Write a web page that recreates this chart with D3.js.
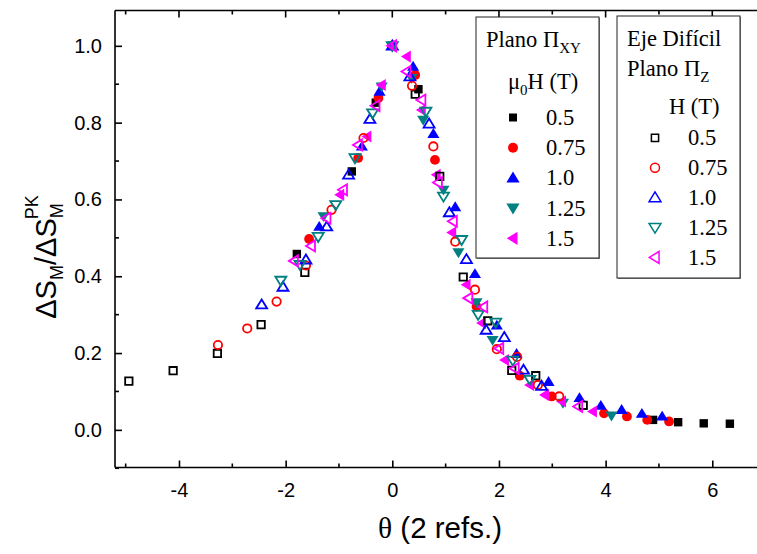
<!DOCTYPE html>
<html>
<head>
<meta charset="utf-8">
<script src="https://cdn.jsdelivr.net/npm/d3@7"></script>
<style>
  html, body { margin: 0; padding: 0; background: #fff; }
  svg { display: block; }
</style>
</head>
<body>
<svg id="chart" width="757" height="554"></svg>
<script>
// Normalised magnetic entropy change vs reduced temperature θ (2 refs.)
// Plano Π_XY (filled symbols), field μ0H in T
const xyField05  = [[-1.79,0.458],[-0.76,0.673],[-0.31,0.852],[0,1],[0.49,0.887],[4.89,0.026],[5.36,0.020],[5.84,0.017],[6.33,0.016]];
const xyField075 = [[-1.56,0.497],[-0.64,0.708],[-0.26,0.864],[0,1],[0.43,0.924],[0.80,0.703],[1.58,0.321],[2.39,0.141],[2.99,0.087],[3.97,0.043],[4.40,0.035],[4.78,0.026],[5.19,0.022]];
const xyField10  = [[-1.37,0.529],[-0.57,0.738],[-0.24,0.881],[0,1],[0.39,0.946],[0.77,0.771],[1.18,0.580],[1.55,0.406],[1.96,0.272],[2.33,0.198],[2.93,0.125],[3.51,0.083],[3.91,0.063],[4.30,0.052],[4.68,0.042],[5.06,0.035]];
const xyField125 = [[-1.29,0.556],[-0.20,0.894],[0,1],[0.36,0.916],[0.58,0.807],[0.96,0.625],[1.24,0.462],[1.58,0.332],[1.88,0.234],[3.20,0.070],[4.11,0.037]];
const xyField15  = [[-0.98,0.612],[-0.47,0.764],[-0.20,0.898],[0,1],[0.27,0.972],[0.55,0.833],[0.83,0.664],[1.12,0.514],[1.39,0.378],[1.68,0.278],[2.11,0.182],[2.58,0.117],[2.86,0.091],[3.18,0.074],[3.76,0.048]];

// Eje Difícil, Plano Π_Z (open symbols), field H in T
const zField05  = [[-4.94,0.127],[-4.11,0.154],[-3.28,0.199],[-2.46,0.274],[-1.64,0.410],[0.43,0.874],[0.89,0.660],[1.33,0.398],[1.79,0.284],[2.24,0.155],[2.69,0.141],[3.58,0.064]];
const zField075 = [[-3.27,0.221],[-2.72,0.264],[-2.17,0.334],[-1.62,0.428],[-1.14,0.573],[-0.54,0.760],[0.37,0.896],[0.77,0.738],[1.18,0.490],[1.55,0.365],[1.96,0.210],[2.34,0.190],[2.73,0.117],[3.13,0.087]];
const zField10  = [[-2.45,0.326],[-2.05,0.372],[-1.62,0.443],[-1.23,0.529],[-0.82,0.664],[-0.42,0.809],[0,1],[0.33,0.920],[0.69,0.797],[1.07,0.566],[1.39,0.444],[1.76,0.260],[2.10,0.241],[2.46,0.156],[2.80,0.114]];
const zField125 = [[-2.09,0.389],[-1.73,0.430],[-1.39,0.503],[-1.06,0.586],[-0.70,0.708],[-0.37,0.825],[0,1],[0.63,0.829],[0.96,0.608],[1.30,0.495],[1.61,0.300],[1.94,0.280],[2.26,0.181],[2.58,0.131]];
const zField15  = [[-1.84,0.440],[-1.52,0.479],[-1.23,0.551],[-0.92,0.625],[-0.64,0.742],[-0.31,0.844],[0,1],[0.27,0.933],[0.55,0.859],[0.86,0.644],[1.14,0.543],[1.43,0.343],[1.71,0.320],[2.01,0.212],[2.30,0.160],[3.49,0.061]];

const fieldLabels = ["0.5", "0.75", "1.0", "1.25", "1.5"];
const xTickValues = [-4, -2, 0, 2, 4, 6];
const yTickValues = [0.0, 0.2, 0.4, 0.6, 0.8, 1.0];

const colors = ["#000000", "#ff0000", "#0000ff", "#008080", "#ff00ff"];
const shapes = ["square", "circle", "up", "down", "left"];

const svg = d3.select("#chart");
const x = d3.scaleLinear().domain([-5.2, 7]).range([115, 765.6]);
const y = d3.scaleLinear().domain([-0.098, 1.092]).range([467.5, 10.5]);

// symbol path centred on 0,0; r is half the nominal size
function symbolPath(shape, r) {
  switch (shape) {
    case "square": return `M${-r},${-r}H${r}V${r}H${-r}Z`;
    case "circle": return `M${-r},0A${r},${r} 0 1,0 ${r},0A${r},${r} 0 1,0 ${-r},0Z`;
    case "up":     return `M0,${-r*1.05}L${r*1.1},${r*0.75}L${-r*1.1},${r*0.75}Z`;
    case "down":   return `M0,${r*1.05}L${r*1.1},${-r*0.75}L${-r*1.1},${-r*0.75}Z`;
    case "left":   return `M${-r*1.05},0L${r*0.75},${-r*1.1}L${r*0.75},${r*1.1}Z`;
  }
}
const filledSize = { square: 4.2, circle: 4.9, up: 5.5, down: 5.5, left: 5.5 };
const openSize   = { square: 3.7, circle: 4.2, up: 5.0, down: 5.0, left: 5.0 };

// axes frame
const frame = svg.append("g").attr("stroke", "#000").attr("stroke-width", 1.6).attr("fill", "none");
frame.append("line").attr("x1", x(-5.2)).attr("x2", x(7)).attr("y1", y.range()[0]).attr("y2", y.range()[0]);
frame.append("line").attr("x1", x(-5.2)).attr("x2", x(7)).attr("y1", y.range()[1]).attr("y2", y.range()[1]);
frame.append("line").attr("x1", x(-5.2)).attr("x2", x(-5.2)).attr("y1", y.range()[0]).attr("y2", y.range()[1]);

const sans = "Liberation Sans, Arial, sans-serif";
const serif = "Liberation Serif, Times New Roman, serif";

// bottom axis: inward ticks
const xMajor = d3.range(-4, 7, 2), xMinor = d3.range(-5, 8, 2);
const bottomAxis = svg.append("g").attr("transform", `translate(0,${y.range()[0]})`);
bottomAxis.call(d3.axisBottom(x).tickValues(xTickValues).tickSize(-7).tickSizeOuter(0).tickPadding(15)
    .tickFormat(d => d3.format("d")(d).replace("−", "-")));
bottomAxis.select(".domain").remove();
bottomAxis.selectAll(".tick line").attr("stroke-width", 1.6);
bottomAxis.selectAll(".tick text").attr("font-family", sans).attr("font-size", 20).attr("fill", "#000");
bottomAxis.selectAll(".minor").data(xMinor).enter().append("line")
  .attr("x1", d => x(d)).attr("x2", d => x(d)).attr("y1", 0).attr("y2", -4)
  .attr("stroke", "#000").attr("stroke-width", 1.6);

// top axis mirrors ticks without labels
const topAxis = svg.append("g").attr("transform", `translate(0,${y.range()[1]})`);
topAxis.selectAll(".maj").data(xMajor).enter().append("line")
  .attr("x1", d => x(d)).attr("x2", d => x(d)).attr("y1", 0).attr("y2", 7)
  .attr("stroke", "#000").attr("stroke-width", 1.6);
topAxis.selectAll(".min").data(xMinor).enter().append("line")
  .attr("x1", d => x(d)).attr("x2", d => x(d)).attr("y1", 0).attr("y2", 4)
  .attr("stroke", "#000").attr("stroke-width", 1.6);

// left axis
const leftAxis = svg.append("g").attr("transform", `translate(${x(-5.2)},0)`);
leftAxis.call(d3.axisLeft(y).tickValues(yTickValues).tickSize(-7).tickSizeOuter(0).tickPadding(13)
    .tickFormat(d3.format(".1f")));
leftAxis.select(".domain").remove();
leftAxis.selectAll(".tick line").attr("stroke-width", 1.6);
leftAxis.selectAll(".tick text").attr("font-family", sans).attr("font-size", 20).attr("fill", "#000");
leftAxis.selectAll(".minor").data([-0.1, 0.1, 0.3, 0.5, 0.7, 0.9]).enter().append("line")
  .attr("x1", 0).attr("x2", 4).attr("y1", d => y(d)).attr("y2", d => y(d))
  .attr("stroke", "#000").attr("stroke-width", 1.6);

// data marks
const plot = svg.append("g");
const xySeries = [xyField05, xyField075, xyField10, xyField125, xyField15];
const zSeries  = [zField05, zField075, zField10, zField125, zField15];

function drawSeries(data, i, filled) {
  const shape = shapes[i];
  const r = filled ? filledSize[shape] : openSize[shape];
  plot.append("g").selectAll("path").data(data).enter().append("path")
    .attr("transform", d => `translate(${x(d[0])},${y(d[1])})`)
    .attr("d", symbolPath(shape, r))
    .attr("fill", filled ? colors[i] : "none")
    .attr("stroke", colors[i])
    .attr("stroke-width", filled ? 0 : 1.8);
}
xySeries.forEach((s, i) => drawSeries(s, i, true));
zSeries.forEach((s, i) => drawSeries(s, i, false));

// axis titles
svg.append("text")
  .attr("x", 440).attr("y", 538).attr("text-anchor", "middle")
  .attr("font-family", sans).attr("font-size", 29.5)
  .call(t => {
    t.append("tspan").attr("font-family", serif).text("θ");
    t.append("tspan").text(" (2 refs.)");
  });

const yTitle = svg.append("text")
  .attr("transform", "translate(56,257) rotate(-90)")
  .attr("text-anchor", "middle")
  .attr("font-family", sans).attr("font-size", 29);
yTitle.append("tspan").text("ΔS");
yTitle.append("tspan").attr("font-size", 18).attr("dy", 7).text("M");
yTitle.append("tspan").attr("dy", -7).text("/ΔS");
yTitle.append("tspan").attr("font-size", 18).attr("dy", 7).text("M");
yTitle.append("tspan").attr("font-size", 18).attr("dx", -16).attr("dy", -25).text("PK");

// legends
function legendBox(x0, y0, w, h) {
  svg.append("rect").attr("x", x0 + 1).attr("y", y0 + 1).attr("width", w).attr("height", h)
    .attr("fill", "#888");
  svg.append("rect").attr("x", x0).attr("y", y0).attr("width", w).attr("height", h)
    .attr("fill", "#fff").attr("stroke", "#222").attr("stroke-width", 1);
}
function legendText(tx, ty, parts) {
  const t = svg.append("text").attr("x", tx).attr("y", ty)
    .attr("font-family", serif).attr("font-size", 22.5).attr("fill", "#000");
  parts.forEach(p => {
    const s = t.append("tspan").text(p.text);
    if (p.sub) s.attr("font-size", 15).attr("dy", 6);
    if (p.back) s.attr("dy", -6);
  });
}
const legendSizes = { square: 4.0, circle: 5.0, up: 6.0, down: 6.0, left: 6.0 };

// Plano Π_XY legend
legendBox(476, 17, 123, 241);
legendText(486, 47, [{ text: "Plano Π" }, { text: "XY", sub: true }]);
legendText(508, 89, [{ text: "μ" }, { text: "0", sub: true }, { text: "H (T)", back: true }]);
fieldLabels.forEach((lab, i) => {
  const cy = 117.5 + i * 30.2;
  svg.append("path").attr("transform", `translate(513,${cy})`)
    .attr("d", symbolPath(shapes[i], legendSizes[shapes[i]])).attr("fill", colors[i]);
  legendText(546, cy + 7.5, [{ text: lab }]);
});

// Eje Difícil / Plano Π_Z legend
legendBox(617, 16, 123, 262);
legendText(627, 46, [{ text: "Eje Difícil" }]);
legendText(627, 76, [{ text: "Plano Π" }, { text: "Z", sub: true }]);
legendText(669, 114, [{ text: "H (T)" }]);
fieldLabels.forEach((lab, i) => {
  const cy = 137.8 + i * 29.9;
  svg.append("path").attr("transform", `translate(655,${cy})`)
    .attr("d", symbolPath(shapes[i], legendSizes[shapes[i]] * 0.9))
    .attr("fill", "none").attr("stroke", colors[i]).attr("stroke-width", 1.5);
  legendText(688, cy + 7.5, [{ text: lab }]);
});
</script>
</body>
</html>
